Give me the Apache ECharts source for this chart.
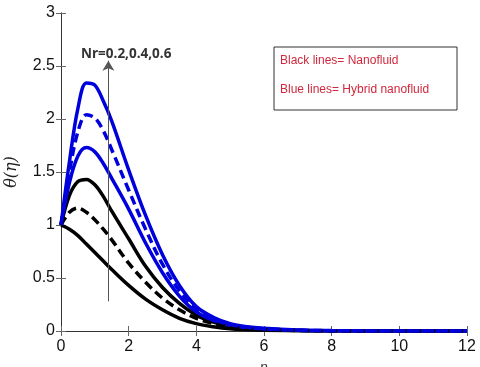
<!DOCTYPE html>
<html><head><meta charset="utf-8">
<script src="https://cdn.jsdelivr.net/npm/echarts@6/dist/echarts.min.js"></script>
<style>html,body{margin:0;padding:0;background:#fff}#c{width:480px;height:367px}</style>
</head><body><div id="c"></div>
<script>
const xs = [0,0.25,0.5,0.75,1,1.25,1.5,2,2.5,3,3.5,4,4.5,5,5.5,6,7,8,10,12];
const nanoNr02 = [1.0,0.96,0.9,0.82,0.74,0.66,0.58,0.43,0.3,0.2,0.12,0.07,0.04,0.02,0.012,0.007,0.002,0,0,0];
const nanoNr04 = [1.0,1.12,1.16,1.12,1.05,0.96,0.86,0.64,0.46,0.31,0.2,0.12,0.07,0.04,0.022,0.012,0.004,0.001,0,0];
const nanoNr06 = [1.0,1.28,1.41,1.43,1.38,1.27,1.13,0.87,0.61,0.41,0.26,0.15,0.085,0.045,0.026,0.015,0.005,0.002,0,0];
const hybNr02 = [1.0,1.4,1.65,1.73,1.69,1.58,1.44,1.15,0.83,0.55,0.33,0.18,0.1,0.055,0.032,0.02,0.007,0.003,0,0];
const hybNr04 = [1.0,1.5,1.88,2.04,2.01,1.89,1.71,1.33,0.96,0.63,0.38,0.21,0.11,0.06,0.035,0.02,0.008,0.003,0,0];
const hybNr06 = [1.0,1.6,2.1,2.34,2.32,2.17,1.98,1.52,1.09,0.72,0.43,0.23,0.13,0.07,0.04,0.025,0.01,0.004,0.001,0];
const xTicks = [0,2,4,6,8,10,12];
const yTicks = [0,0.5,1,1.5,2,2.5,3];
const arrowX = 1.4, arrowFrom = 0.28, arrowTo = 2.55;
const annot = "Nr=0.2,0.4,0.6";
const legendLines = ["Black lines= Nanofluid", "Blue lines= Hybrid nanofluid"];

const pair = arr => xs.map((x,i)=>[x,arr[i]]);
const mk = (data,color,dashed) => ({
  type:'line', data:pair(data), smooth:0.35, symbol:'none', silent:true,
  lineStyle:{color:color,width:3.5,type:dashed?[9,5]:'solid'}, z:dashed?3:2
});
const axisCommon = {
  min:0, axisLine:{show:true,lineStyle:{color:'#666',width:1}},
  axisTick:{inside:true,length:5,lineStyle:{color:'#666'}},
  splitLine:{show:false}
};
const chart = echarts.init(document.getElementById('c'));
const series = [
  mk(nanoNr02,'#000',false), mk(nanoNr04,'#000',true), mk(nanoNr06,'#000',false),
  mk(hybNr02,'#0000dd',false), mk(hybNr04,'#0000dd',true), mk(hybNr06,'#0000dd',false)
];
series[0].markLine = {
  silent:true, symbol:['none','arrow'], symbolSize:[9,10],
  lineStyle:{color:'#555',width:1,type:'solid'}, label:{show:false},
  data:[[{coord:[arrowX,arrowFrom]},{coord:[arrowX,arrowTo]}]]
};
chart.setOption({
  animation:false,
  grid:{left:61,right:13,top:13,bottom:36,containLabel:false,outerBoundsMode:'none'},
  xAxis:[
    Object.assign({},axisCommon,{type:'value',max:12,interval:2,position:'bottom',
      axisLabel:{color:'#111',fontSize:16,fontFamily:'Liberation Sans',margin:8},
      name:'η',nameLocation:'middle',nameGap:30,nameTextStyle:{color:'#333',fontSize:14,fontStyle:'italic'}}),
    Object.assign({},axisCommon,{type:'value',max:12,interval:2,position:'top',axisLabel:{show:false},
      axisLine:{show:true,lineStyle:{color:'#333',width:1}}})
  ],
  yAxis:[
    Object.assign({},axisCommon,{type:'value',max:3,interval:0.5,position:'left',
      axisLabel:{color:'#111',fontSize:16,fontFamily:'Liberation Sans',margin:6,formatter:v=>String(v)},
      name:'θ(η)',nameLocation:'middle',nameRotate:90,nameGap:41,
      nameTextStyle:{color:'#222',fontSize:16,fontStyle:'italic',fontFamily:'DejaVu Serif'}}),
    Object.assign({},axisCommon,{type:'value',max:3,interval:0.5,position:'right',axisLabel:{show:false},
      axisLine:{show:true,lineStyle:{color:'#333',width:1}}})
  ],
  series:series,
  graphic:[
    {type:'text',x:81,y:54,style:{text:annot,fill:'#333',font:'bold 13.5px "Open Sans"',verticalAlign:'middle'}},
    {type:'rect',shape:{x:274,y:47,width:183,height:63},style:{fill:'#fff',stroke:'#333',lineWidth:1},z:10},
    {type:'text',x:280,y:61,style:{text:legendLines[0],fill:'#d0283c',font:'12px "Liberation Sans"',verticalAlign:'middle'},z:11},
    {type:'text',x:280,y:90,style:{text:legendLines[1],fill:'#d0283c',font:'12px "Liberation Sans"',verticalAlign:'middle'},z:11}
  ]
});
</script></body></html>
